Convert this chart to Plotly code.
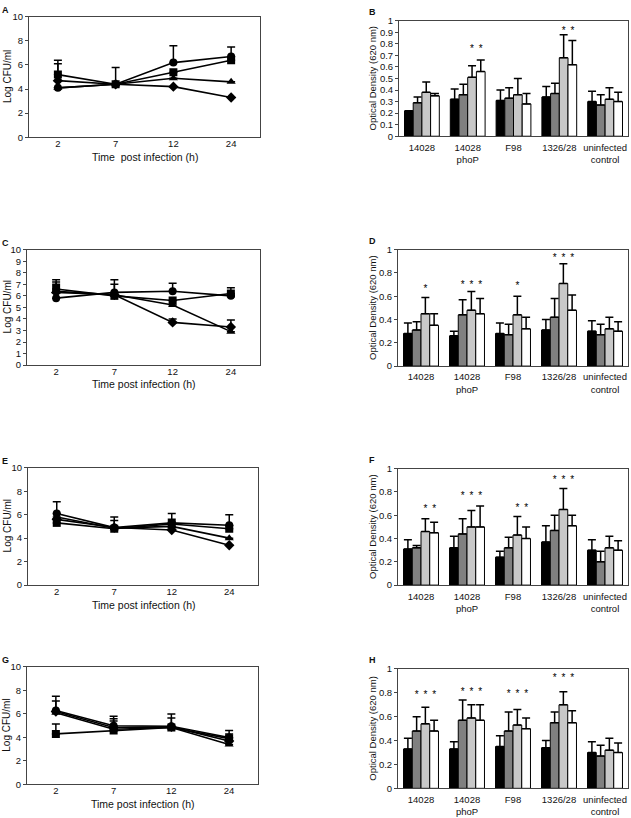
import plotly.graph_objects as go

W, H = 631, 818

# ---------------- data ----------------
time_labels = ["2", "7", "12", "24"]
strain_labels = ["14028", "14028<br>phoP", "F98", "1326/28", "uninfected<br>control"]
series_names = ["diamond", "square", "triangle", "circle"]

# Line panels: Log CFU/ml
A_diamond = [4.7, 4.4, 4.2, 3.3]
A_square = [5.2, 4.4, 5.4, 6.4]
A_triangle = [4.1, 4.4, 4.9, 4.6]
A_circle = [4.1, 4.4, 6.2, 6.7]
A_diamond_err = [1.4, 0, 0, 0]
A_square_err = [1.2, 1.4, 0, 0]
A_triangle_err = [0, 0, 0, 0]
A_circle_err = [0, 0, 1.4, 0.8]

C_diamond = [6.3, 6.1, 3.7, 3.3]
C_square = [6.6, 6.0, 5.6, 6.2]
C_triangle = [6.4, 6.1, 5.2, 2.9]
C_circle = [5.8, 6.3, 6.4, 6.0]
C_diamond_err = [0.7, 0, 0.3, 0]
C_square_err = [0.8, 1.4, 0, 0.5]
C_triangle_err = [0.8, 0, 0, 1.0]
C_circle_err = [0, 0.7, 0.7, 0]

E_diamond = [5.6, 4.9, 4.7, 3.4]
E_square = [5.3, 4.8, 5.2, 4.8]
E_triangle = [5.8, 4.85, 5.0, 4.0]
E_circle = [6.1, 4.9, 5.3, 5.1]
E_diamond_err = [0, 0, 0, 0]
E_square_err = [0, 0, 0, 1.2]
E_triangle_err = [0, 0.65, 0.6, 0]
E_circle_err = [1.0, 0.9, 0.8, 0]

G_diamond = [6.2, 4.85, 4.9, 3.7]
G_square = [4.3, 4.6, 4.85, 3.9]
G_triangle = [6.1, 4.7, 4.85, 3.4]
G_circle = [6.3, 5.0, 4.95, 4.0]
G_diamond_err = [0.9, 0.75, 0.75, 0]
G_square_err = [0.85, 0.8, 0, 0.4]
G_triangle_err = [0, 0, 0, 0]
G_circle_err = [1.2, 0.8, 1.05, 0.6]

# Bar panels: Optical Density (620 nm); 4 bars per strain
B_black = [0.22, 0.32, 0.31, 0.34, 0.30]
B_dark = [0.29, 0.36, 0.33, 0.37, 0.27]
B_light = [0.38, 0.51, 0.36, 0.68, 0.32]
B_white = [0.35, 0.56, 0.28, 0.62, 0.30]
B_black_top = [0.22, 0.41, 0.40, 0.43, 0.39]
B_dark_top = [0.34, 0.45, 0.42, 0.46, 0.36]
B_light_top = [0.47, 0.61, 0.50, 0.88, 0.42]
B_white_top = [0.37, 0.66, 0.37, 0.83, 0.38]
B_stars = [[0, 0, 0, 0], [0, 0, 1, 1], [0, 0, 0, 0], [0, 0, 1, 1], [0, 0, 0, 0]]
B_star_level = [0, 0.75, 0, 0.91, 0]

D_black = [0.28, 0.26, 0.28, 0.31, 0.30]
D_dark = [0.31, 0.44, 0.27, 0.42, 0.27]
D_light = [0.45, 0.48, 0.44, 0.71, 0.32]
D_white = [0.35, 0.45, 0.32, 0.48, 0.30]
D_black_top = [0.37, 0.30, 0.37, 0.40, 0.39]
D_dark_top = [0.38, 0.57, 0.36, 0.58, 0.36]
D_light_top = [0.59, 0.64, 0.60, 0.88, 0.42]
D_white_top = [0.45, 0.58, 0.42, 0.61, 0.38]
D_stars = [[0, 0, 1, 0], [0, 1, 1, 1], [0, 0, 1, 0], [0, 1, 1, 1], [0, 0, 0, 0]]
D_star_level = [0.66, 0.69, 0.68, 0.92, 0]

F_black = [0.31, 0.32, 0.24, 0.37, 0.30]
F_dark = [0.32, 0.44, 0.32, 0.47, 0.20]
F_light = [0.46, 0.50, 0.43, 0.65, 0.32]
F_white = [0.45, 0.50, 0.40, 0.51, 0.30]
F_black_top = [0.39, 0.42, 0.29, 0.51, 0.39]
F_dark_top = [0.34, 0.57, 0.41, 0.60, 0.29]
F_light_top = [0.57, 0.64, 0.59, 0.83, 0.42]
F_white_top = [0.54, 0.68, 0.50, 0.60, 0.38]
F_stars = [[0, 0, 1, 1], [0, 1, 1, 1], [0, 0, 1, 1], [0, 1, 1, 1], [0, 0, 0, 0]]
F_star_level = [0.65, 0.76, 0.66, 0.90, 0]

H_black = [0.33, 0.33, 0.35, 0.34, 0.30]
H_dark = [0.48, 0.57, 0.48, 0.55, 0.27]
H_light = [0.54, 0.59, 0.53, 0.70, 0.32]
H_white = [0.48, 0.57, 0.50, 0.55, 0.30]
H_black_top = [0.42, 0.39, 0.44, 0.40, 0.39]
H_dark_top = [0.60, 0.74, 0.64, 0.64, 0.36]
H_light_top = [0.68, 0.70, 0.66, 0.81, 0.42]
H_white_top = [0.57, 0.70, 0.59, 0.65, 0.38]
H_stars = [[0, 1, 1, 1], [0, 1, 1, 1], [0, 1, 1, 1], [0, 1, 1, 1], [0, 0, 0, 0]]
H_star_level = [0.78, 0.80, 0.79, 0.92, 0]

# ---------------- styling / layout helpers ----------------
FONT = "Liberation Sans, Arial, sans-serif"
marker_symbols = {"diamond": "diamond", "square": "square", "triangle": "triangle-up", "circle": "circle"}
bar_colors = ["#000000", "#808080", "#c8c8c8", "#ffffff"]
BAR_W = 0.19


def xdom(l, r):
    return [l / W, r / W]


def ydom(t, b):
    return [1 - b / H, 1 - t / H]


def note(text, px, py, size, angle=0):
    return dict(text=text, x=px / W, y=1 - py / H, xref="paper", yref="paper",
                xanchor="center", yanchor="middle", textangle=angle, showarrow=False,
                font=dict(family=FONT, size=size, color="#111111"))


fig = go.Figure()

line_panels = [
    ("A", 1, [A_diamond, A_square, A_triangle, A_circle],
     [A_diamond_err, A_square_err, A_triangle_err, A_circle_err], (29, 260, 11, 133), 2,
     "Time  post infection (h)", 153),
    ("C", 3, [C_diamond, C_square, C_triangle, C_circle],
     [C_diamond_err, C_square_err, C_triangle_err, C_circle_err], (27, 260, 247, 364), 1,
     "Time post infection (h)", 383),
    ("E", 5, [E_diamond, E_square, E_triangle, E_circle],
     [E_diamond_err, E_square_err, E_triangle_err, E_circle_err], (28, 258, 468, 587), 2,
     "Time post infection (h)", 607),
    ("G", 7, [G_diamond, G_square, G_triangle, G_circle],
     [G_diamond_err, G_square_err, G_triangle_err, G_circle_err], (27, 258, 670, 789), 2,
     "Time post infection (h)", 809),
]

bar_panels = [
    ("B", 2, [B_black, B_dark, B_light, B_white], [B_black_top, B_dark_top, B_light_top, B_white_top],
     B_stars, B_star_level, (399, 628, 15, 132), 0.1),
    ("D", 4, [D_black, D_dark, D_light, D_white], [D_black_top, D_dark_top, D_light_top, D_white_top],
     D_stars, D_star_level, (398, 628, 247, 365), 0.2),
    ("F", 6, [F_black, F_dark, F_light, F_white], [F_black_top, F_dark_top, F_light_top, F_white_top],
     F_stars, F_star_level, (398, 628, 469, 587), 0.2),
    ("H", 8, [H_black, H_dark, H_light, H_white], [H_black_top, H_dark_top, H_light_top, H_white_top],
     H_stars, H_star_level, (398, 628, 672, 793), 0.2),
]

annotations = []
layout_axes = {}

axis_common = dict(showline=True, mirror=True, linecolor="#444444", linewidth=1,
                   showgrid=False, zeroline=False,
                   tickfont=dict(family=FONT, size=9.5, color="#111111"))

for letter, n, series, errs, (l, r, t, b), dtick, xtitle, xty in line_panels:
    xa = "x" if n == 1 else f"x{n}"
    ya = "y" if n == 1 else f"y{n}"
    for name, vals, err in zip(series_names, series, errs):
        fig.add_trace(go.Scatter(
            x=time_labels, y=vals, mode="lines+markers", xaxis=xa, yaxis=ya,
            line=dict(color="black", width=1.6),
            marker=dict(symbol=marker_symbols[name], size=8, color="black"),
            error_y=dict(type="data", symmetric=False, array=err, arrayminus=[0] * len(err),
                         color="black", thickness=1.5, width=4),
            showlegend=False, name=name))
    layout_axes["xaxis" if n == 1 else f"xaxis{n}"] = dict(
        axis_common, domain=xdom(l, r), anchor=ya, type="category",
        range=[-0.5, 3.5], ticks="", ticklabelstandoff=-3)
    layout_axes["yaxis" if n == 1 else f"yaxis{n}"] = dict(
        axis_common, domain=ydom(t, b), anchor=xa, range=[0, 10], dtick=dtick,
        ticks="outside", ticklen=3, tickcolor="#444444")
    annotations.append(note(xtitle, (l + r) / 2, xty, 10.5))
    annotations.append(note("Log CFU/ml", 7, (t + b) / 2, 10, -90))
    annotations.append(note(f"<b>{letter}</b>", 5, t - 7, 9))

for letter, n, bars, tops, stars, star_level, (l, r, t, b), dtick in bar_panels:
    xa = f"x{n}"
    ya = f"y{n}"
    for k, (vals, top) in enumerate(zip(bars, tops)):
        xs = [i + (k - 1.5) * BAR_W for i in range(len(vals))]
        fig.add_trace(go.Bar(
            x=xs, y=vals, width=BAR_W, xaxis=xa, yaxis=ya,
            marker=dict(color=bar_colors[k], line=dict(color="black", width=1)),
            error_y=dict(type="data", symmetric=False,
                         array=[tp - v for tp, v in zip(top, vals)],
                         arrayminus=[0] * len(vals), color="black", thickness=1.5, width=4),
            showlegend=False))
    sx, sy = [], []
    for i, flags in enumerate(stars):
        for k, f in enumerate(flags):
            if f:
                sx.append(i + (k - 1.5) * BAR_W)
                sy.append(star_level[i])
    fig.add_trace(go.Scatter(x=sx, y=sy, mode="text", text=["*"] * len(sx), xaxis=xa, yaxis=ya,
                             textfont=dict(family=FONT, size=10, color="black"), showlegend=False))
    layout_axes[f"xaxis{n}"] = dict(
        axis_common, domain=xdom(l, r), anchor=ya, range=[-0.5, 4.5],
        tickvals=list(range(len(strain_labels))), ticktext=strain_labels, ticks="",
        ticklabelstandoff=2)
    layout_axes[f"yaxis{n}"] = dict(
        axis_common, domain=ydom(t, b), anchor=xa, range=[0, 1], dtick=dtick,
        ticks="outside", ticklen=3, tickcolor="#444444")
    annotations.append(note("Optical Density (620 nm)", 373, (t + b) / 2, 9.5, -90))
    annotations.append(note(f"<b>{letter}</b>", 372, t - 9, 9))

fig.update_layout(
    width=W, height=H, margin=dict(l=0, r=0, t=0, b=0),
    paper_bgcolor="white", plot_bgcolor="white",
    font=dict(family=FONT, size=10, color="#111111"),
    annotations=annotations, bargap=0, hovermode=False, **layout_axes)

fig.write_html("out.html", config={"displayModeBar": False, "staticPlot": True},
               post_script="document.body.style.margin='0';document.body.style.overflow='hidden';")
